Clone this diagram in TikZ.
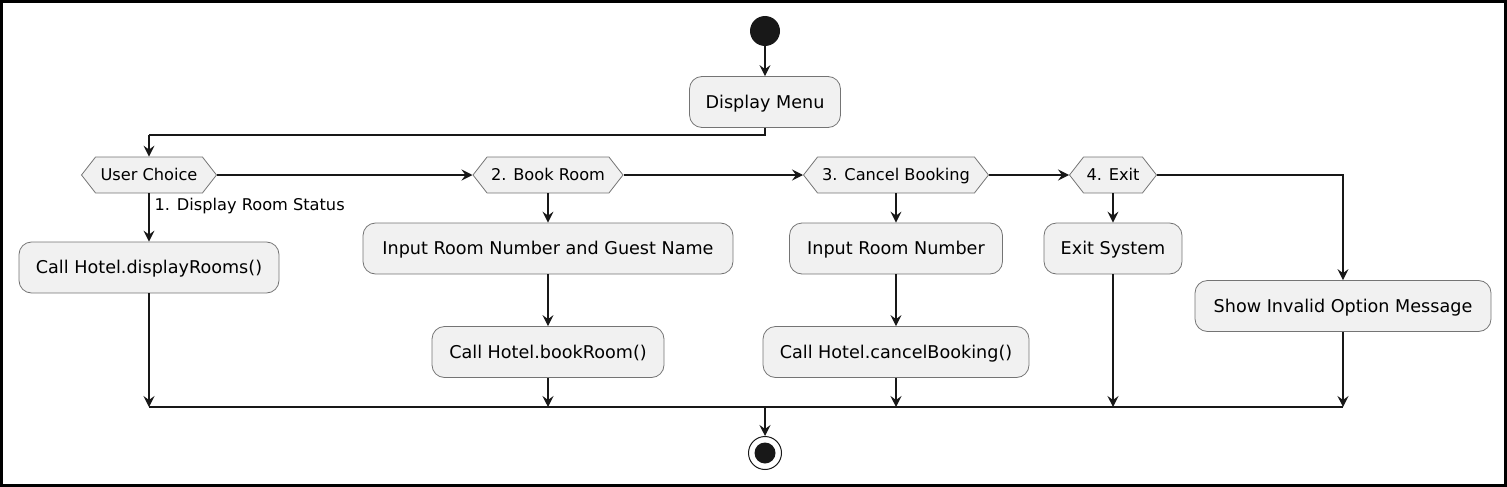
\documentclass[tikz,border=0pt]{standalone}
\usepackage{fontspec}
\setmainfont{DejaVu Sans}
\usetikzlibrary{arrows.meta,shapes.symbols}
\definecolor{actfill}{HTML}{F1F1F1}
\definecolor{ink}{HTML}{181818}
\begin{document}
\begin{tikzpicture}[x=1pt,y=-1pt,
    act/.style={draw=ink!60,fill=actfill,rounded corners=12.5pt,line width=0.8pt,
        minimum height=51pt,inner sep=0pt,text height=12.8pt,text depth=0pt,
        font=\fontsize{17.6}{20}\selectfont},
    pick/.style={signal,signal to=east and west,signal pointer angle=104,draw=ink!60,
        fill=actfill,line width=0.8pt,minimum height=36pt,inner sep=0pt,
        text height=11.8pt,text depth=0pt,font=\fontsize{16.2}{19}\selectfont},
    flow/.style={draw=ink,line width=1.2pt,-{Stealth[length=11pt,width=11pt,inset=4pt]}},
    link/.style={draw=ink,line width=1.2pt}]
    \useasboundingbox (0,0) rectangle (1507,487);
    \draw[line width=3pt] (1.5,1.5) rectangle (1505.5,485.5);
    % start and menu
    \node[circle,fill=ink,minimum size=30pt,inner sep=0pt] at (765,31) (start) {};
    \node[act,minimum width=151pt] at (765,102) (menu) {Display Menu};
    % decisions
    \node[pick,minimum width=135pt] at (149,175) (choice) {User Choice};
    \node[pick,minimum width=150pt] at (548,175) (book) {2. Book Room};
    \node[pick,minimum width=185pt] at (896,175) (cancel) {3. Cancel Booking};
    \node[pick,minimum width=87pt] at (1113,175) (quit) {4. Exit};
    % actions
    \node[act,minimum width=260pt] at (149,267.5) (disp) {Call Hotel.displayRooms()};
    \node[act,minimum width=370pt] at (548,248.5) (bookin) {Input Room Number and Guest Name};
    \node[act,minimum width=232pt] at (548,352) (bookcall) {Call Hotel.bookRoom()};
    \node[act,minimum width=213pt] at (896,248.5) (cancelin) {Input Room Number};
    \node[act,minimum width=266pt] at (896,352) (cancelcall) {Call Hotel.cancelBooking()};
    \node[act,minimum width=138pt] at (1113,248.5) (quitsys) {Exit System};
    \node[act,minimum width=296pt] at (1343,306) (invalid) {Show Invalid Option Message};
    % end
    \node[circle,draw=ink,line width=1pt,fill=white,minimum size=33pt,inner sep=0pt] at (765,453) (stop) {};
    \node[circle,fill=ink,minimum size=21pt,inner sep=0pt] at (stop) (stopdot) {};
    \coordinate (split) at (149,135);
    \coordinate (merge) at (765,407);
    % connectors
    \draw[flow] (start) -- (menu);
    \draw[link] (menu.south) |- (split);
    \draw[flow] (split) -- (choice.north);
    \draw[flow] (choice.east) -- (book.west);
    \draw[flow] (book.east) -- (cancel.west);
    \draw[flow] (cancel.east) -- (quit.west);
    \draw[flow] (quit.east) -| (invalid.north);
    \draw[flow] (choice.south) -- node[pos=0,anchor=north west,inner sep=2pt,xshift=3pt,yshift=-2pt,
        font=\fontsize{16.2}{19}\selectfont] {1. Display Room Status} (disp.north);
    \draw[flow] (book.south) -- (bookin.north);
    \draw[flow] (bookin.south) -- (bookcall.north);
    \draw[flow] (cancel.south) -- (cancelin.north);
    \draw[flow] (cancelin.south) -- (cancelcall.north);
    \draw[flow] (quit.south) -- (quitsys.north);
    \draw[flow] (disp.south) -- (disp.south |- merge);
    \draw[flow] (bookcall.south) -- (bookcall.south |- merge);
    \draw[flow] (cancelcall.south) -- (cancelcall.south |- merge);
    \draw[flow] (quitsys.south) -- (quitsys.south |- merge);
    \draw[flow] (invalid.south) -- (invalid.south |- merge);
    \draw[link] (disp.south |- merge) -- (invalid.south |- merge);
    \draw[flow] (merge) -- (stop);
\end{tikzpicture}
\end{document}
